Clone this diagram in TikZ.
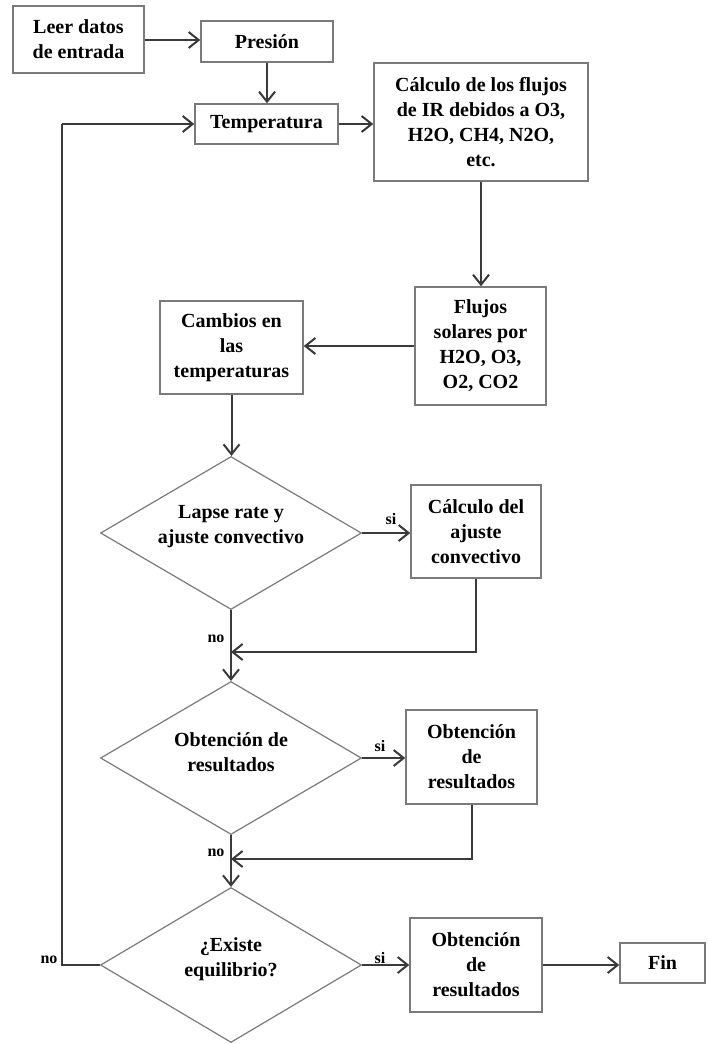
\documentclass[tikz,border=0pt]{standalone}
\usepackage{fontspec}
\setmainfont{Liberation Serif}
\usetikzlibrary{shapes.geometric,arrows.meta}
\definecolor{framegray}{HTML}{7A7A7A}
\definecolor{wiregray}{HTML}{3A3A3A}
\begin{document}
\begin{tikzpicture}[x=1pt,y=-1pt,
  stepbox/.style={draw=framegray,line width=1.5pt,fill=white,inner sep=0pt,
    align=center,font=\fontsize{20}{25}\selectfont\bfseries},
  decision/.style={diamond,draw=framegray,line width=1.2pt,fill=white,inner sep=0pt,
    align=center,font=\fontsize{20}{25}\selectfont\bfseries,
    minimum width=261pt,minimum height=153pt},
  flow/.style={draw=wiregray,line width=2pt,-{Straight Barb[length=10pt,width=16pt]}},
  wire/.style={draw=wiregray,line width=2pt},
  tag/.style={font=\fontsize{16}{18}\selectfont\bfseries,inner sep=0pt}]
\useasboundingbox (0,0) rectangle (708,1044);

% process boxes
\node[stepbox,minimum width=131pt,minimum height=67pt] (leer) at (78.5,39.5) {Leer datos\\de entrada};
\node[stepbox,minimum width=132pt,minimum height=41pt] (pres) at (267,41.5) {Presión};
\node[stepbox,minimum width=143pt,minimum height=40pt] (temp) at (266.5,124) {Temperatura};
\node[stepbox,minimum width=214pt,minimum height=118pt] (calc) at (481,122) {Cálculo de los flujos\\de IR debidos a O3,\\H2O, CH4, N2O,\\etc.};
\node[stepbox,minimum width=131pt,minimum height=118pt] (solar) at (480.5,346) {Flujos\\solares por\\H2O, O3,\\O2, CO2};
\node[stepbox,minimum width=143pt,minimum height=93pt] (camb) at (231.5,347.5) {Cambios en\\las\\temperaturas};
\node[stepbox,minimum width=130pt,minimum height=93pt] (ajus) at (476,531.5) {Cálculo del\\ajuste\\convectivo};
\node[stepbox,minimum width=131pt,minimum height=94pt] (obt1) at (471.5,757) {Obtención\\de\\resultados};
\node[stepbox,minimum width=132pt,minimum height=94pt] (obt2) at (476,965) {Obtención\\de\\resultados};
\node[stepbox,minimum width=85pt,minimum height=40pt] (fin) at (662.5,963) {Fin};

% decisions
\node[decision] (d1) at (231,533) {};
\node[stepbox,draw=none,fill=none] (d1t) at (231,527) {Lapse rate y\\ajuste convectivo};
\node[decision] (d2) at (231,758) {};
\node[stepbox,draw=none,fill=none] (d2t) at (231,752) {Obtención de\\resultados};
\node[decision,minimum height=155pt] (d3) at (231,965) {};
\node[stepbox,draw=none,fill=none] (d3t) at (231,959) {¿Existe\\equilibrio?};

% junction points
\coordinate (j1) at (231,652);
\coordinate (j2) at (231,859);
\coordinate (lb) at (62,965);
\coordinate (lt) at (62,124);

% main chain
\draw[flow] (leer.east |- 0,40) -- (pres.west |- 0,40);
\draw[flow] (pres.south) -- (pres.south |- temp.north);
\draw[flow] (temp.east) -- (temp.east -| calc.west);
\draw[flow] (calc.south) -- (calc.south |- solar.north);
\draw[flow] (solar.west) -- (solar.west -| camb.east);
\draw[flow] (camb.south) -- (camb.south |- d1.north);

% first decision
\draw[flow] (d1.east) -- (d1.east -| ajus.west);
\draw[wire] (ajus.south) |- (j1);
\draw[flow] (ajus.south |- j1) -- (j1);
\draw[flow] (d1.south) -- (d2.north);

% second decision
\draw[flow] (d2.east) -- (d2.east -| obt1.west);
\draw[wire] (obt1.south) |- (j2);
\draw[flow] (obt1.south |- j2) -- (j2);
\draw[flow] (d2.south) -- (d3.north);

% equilibrium test
\draw[flow] (d3.east) -- (d3.east -| obt2.west);
\draw[flow] (obt2.east) -- (obt2.east -| fin.west);
\draw[wire] (d3.west) -- (lb) -- (lt);
\draw[flow] (lt) -- (temp.west);

% branch labels
\node[tag] (s1) at (391,519) {si};
\node[tag] (n1) at (216,639) {no};
\node[tag] (s2) at (380,746) {si};
\node[tag] (n2) at (216,853) {no};
\node[tag] (s3) at (380,958) {si};
\node[tag] (n3) at (49,960) {no};
\end{tikzpicture}
\end{document}
